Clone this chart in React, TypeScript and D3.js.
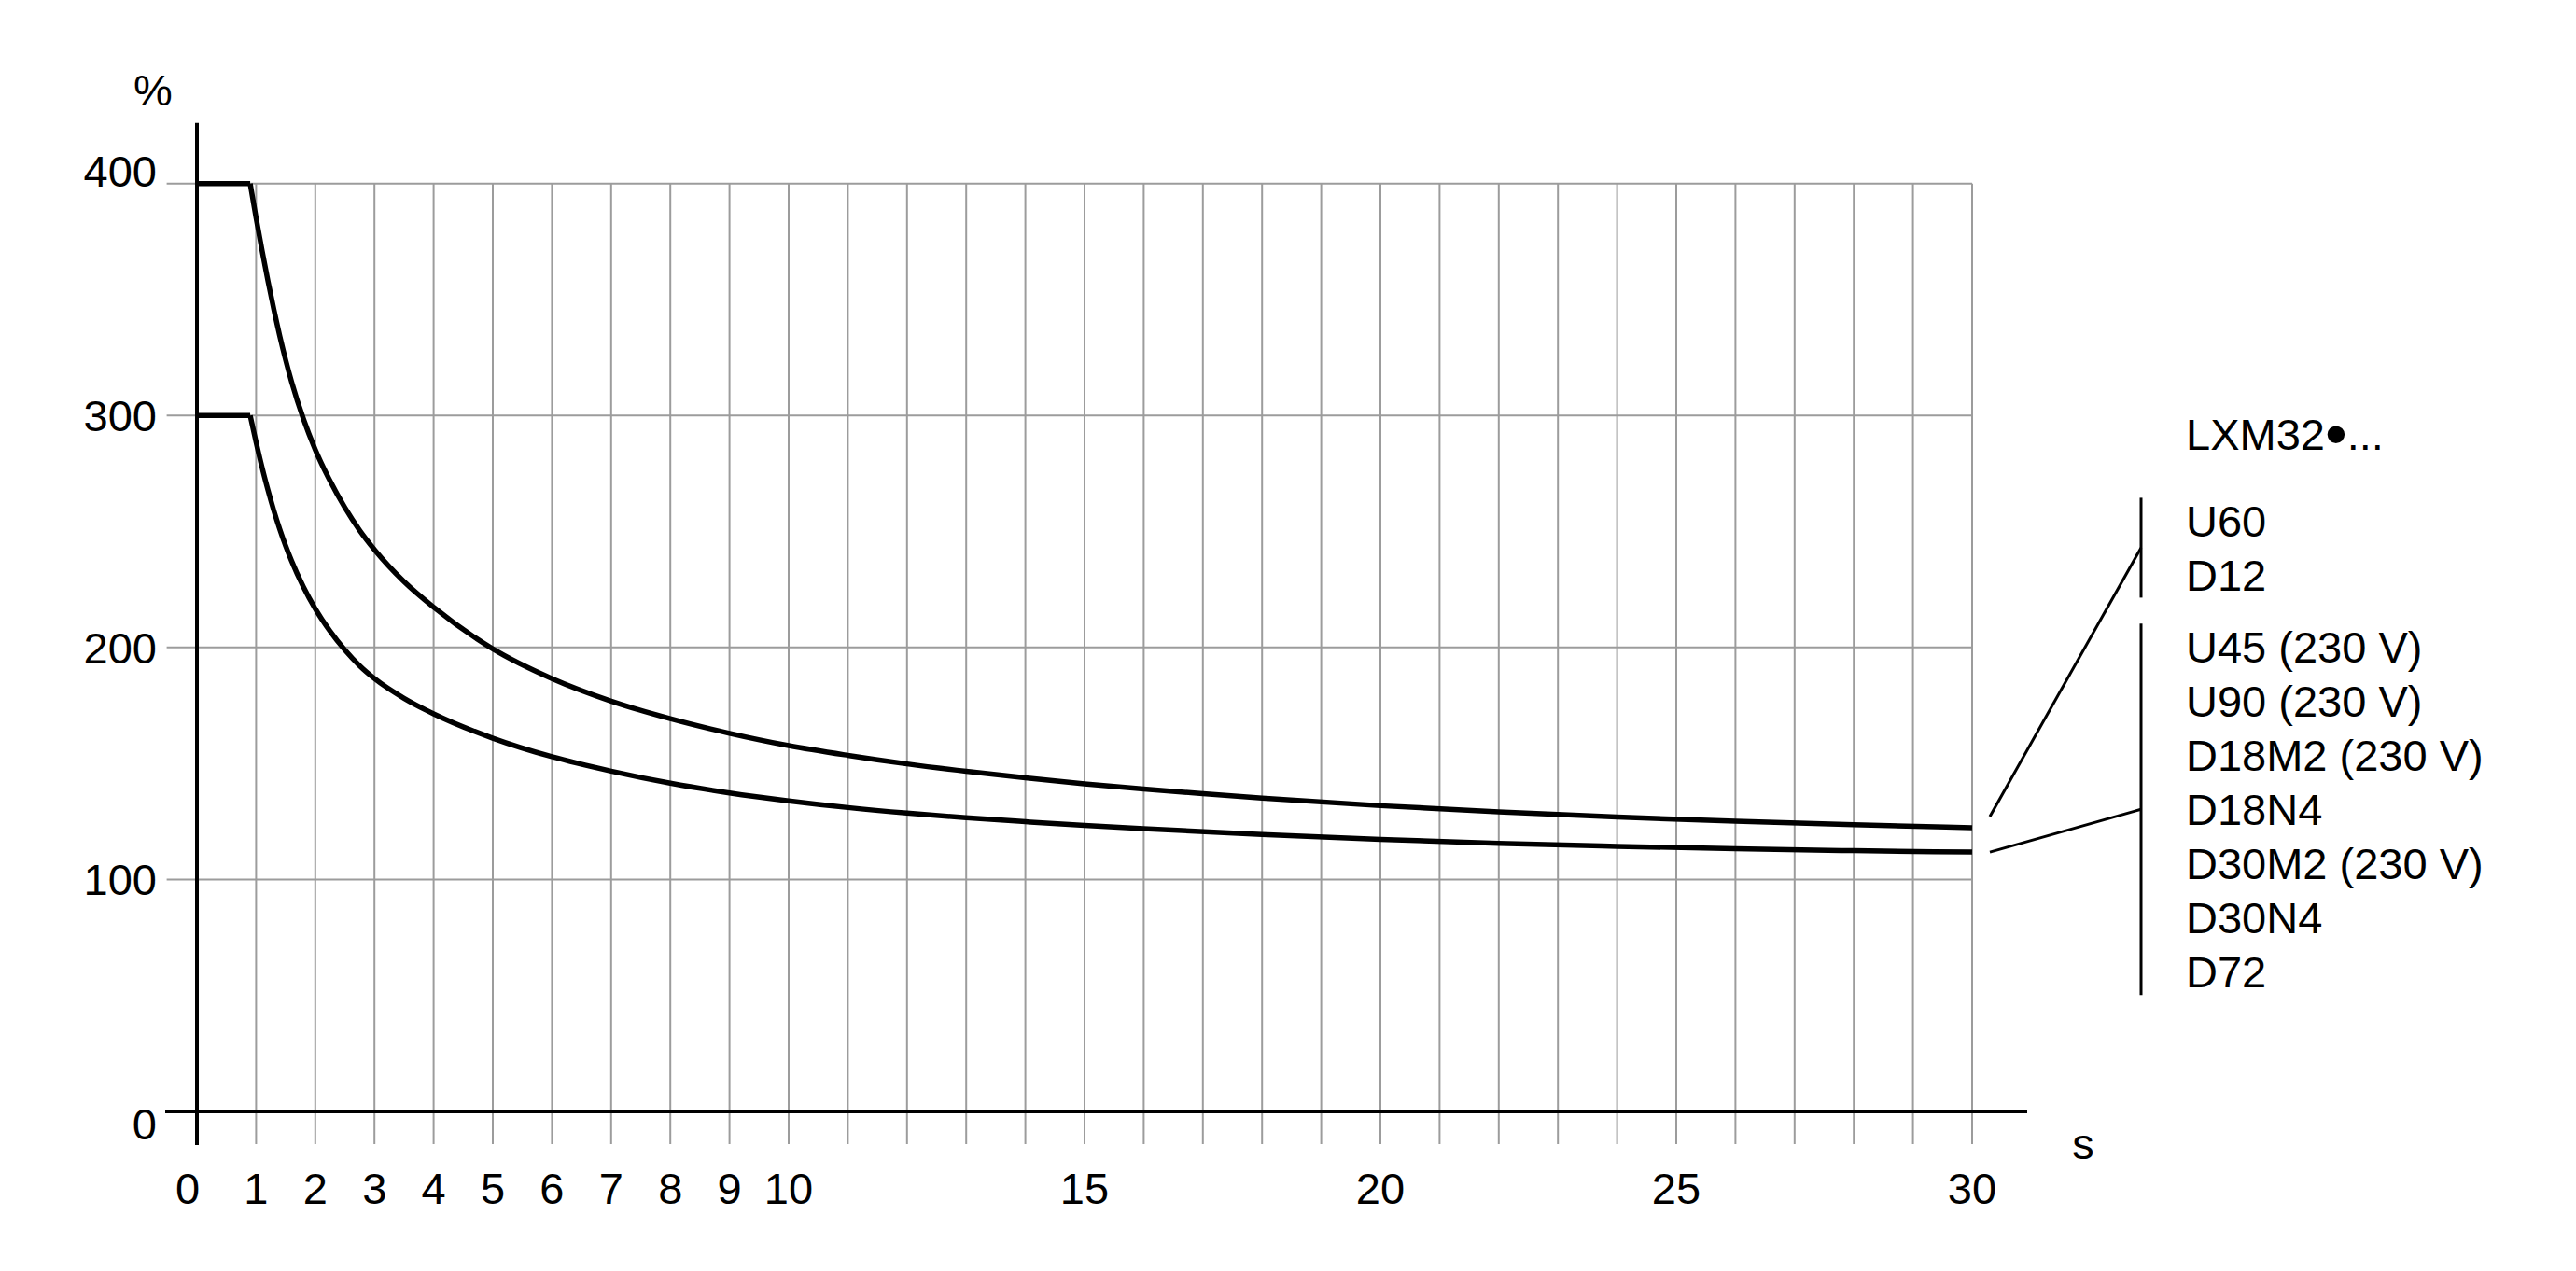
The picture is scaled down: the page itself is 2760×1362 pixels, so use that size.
import React from "react";
import * as d3 from "d3";

// ---- data ----
const gridSeconds = d3.range(1, 31);
const xTickValues = [0, 1, 2, 3, 4, 5, 6, 7, 8, 9, 10, 15, 20, 25, 30];
const yTickValues = [0, 100, 200, 300, 400];

// upper curve (U60, D12)
const upperFlat = [
  { t: 0, v: 400 },
  { t: 0.9, v: 400 },
];
const upperCurve = [
  { t: 0.9, v: 400 }, { t: 1.0, v: 385.2 }, { t: 1.1, v: 371.2 }, { t: 1.2, v: 358 },
  { t: 1.3, v: 345.7 }, { t: 1.4, v: 334.3 }, { t: 1.5, v: 323.9 }, { t: 1.6, v: 314.5 },
  { t: 1.8, v: 298.5 }, { t: 2.0, v: 285.3 }, { t: 2.25, v: 271.8 }, { t: 2.5, v: 260.3 },
  { t: 2.75, v: 250.5 }, { t: 3.0, v: 242.2 }, { t: 3.5, v: 228.4 }, { t: 4.0, v: 217.4 },
  { t: 5, v: 199.4 }, { t: 6, v: 186.6 }, { t: 7, v: 176.9 }, { t: 8, v: 169.3 },
  { t: 9, v: 163 }, { t: 10, v: 157.7 }, { t: 11, v: 153.5 }, { t: 12, v: 149.8 },
  { t: 13, v: 146.6 }, { t: 14, v: 143.8 }, { t: 15, v: 141.2 }, { t: 16, v: 139 },
  { t: 17, v: 137 }, { t: 18, v: 135.1 }, { t: 20, v: 131.8 }, { t: 22, v: 129.1 },
  { t: 24, v: 126.9 }, { t: 26, v: 125.1 }, { t: 28, v: 123.6 }, { t: 30, v: 122.3 },
];

// lower curve (U45, U90, D18M2, D18N4, D30M2, D30N4, D72)
const lowerFlat = [
  { t: 0, v: 300 },
  { t: 0.9, v: 300 },
];
const lowerCurve = [
  { t: 0.9, v: 300 }, { t: 1.0, v: 288.5 }, { t: 1.1, v: 277.7 }, { t: 1.2, v: 267.9 },
  { t: 1.3, v: 259 }, { t: 1.4, v: 251 }, { t: 1.5, v: 243.8 }, { t: 1.6, v: 237.3 },
  { t: 1.8, v: 226.1 }, { t: 2.0, v: 216.7 }, { t: 2.25, v: 207 }, { t: 2.5, v: 198.9 },
  { t: 2.75, v: 192.1 }, { t: 3.0, v: 186.6 }, { t: 3.5, v: 178.1 }, { t: 4.0, v: 171.4 },
  { t: 5, v: 160.9 }, { t: 6, v: 152.9 }, { t: 7, v: 146.7 }, { t: 8, v: 141.5 },
  { t: 9, v: 137.3 }, { t: 10, v: 133.9 }, { t: 11, v: 131 }, { t: 12, v: 128.6 },
  { t: 13, v: 126.6 }, { t: 14, v: 124.9 }, { t: 15, v: 123.3 }, { t: 16, v: 121.9 },
  { t: 18, v: 119.4 }, { t: 20, v: 117.3 }, { t: 22, v: 115.6 }, { t: 24, v: 114.3 },
  { t: 26, v: 113.2 }, { t: 28, v: 112.4 }, { t: 30, v: 111.8 },
];

const legendTitleStart = "LXM32";
const legendTitleBullet = "\u2022";
const legendTitleEnd = "...";
const legendGroupUpper = ["U60", "D12"];
const legendGroupLower = [
  "U45 (230 V)",
  "U90 (230 V)",
  "D18M2 (230 V)",
  "D18N4",
  "D30M2 (230 V)",
  "D30N4",
  "D72",
];
const yUnitLabel = "%";
const xUnitLabel = "s";

// ---- layout ----
const W = 2760;
const H = 1362;
const FONT = "'Liberation Sans', Arial, Helvetica, sans-serif";
const FS = 47;

type Pt = { t: number; v: number };

export default function App() {
  const x = d3.scaleLinear().domain([0, 30]).range([211, 2113]);
  const y = d3.scaleLinear().domain([0, 400]).range([1191, 196.7]);

  const flatLine = d3
    .line<Pt>()
    .x((d) => x(d.t))
    .y((d) => y(d.v));
  const smoothLine = d3
    .line<Pt>()
    .x((d) => x(d.t))
    .y((d) => y(d.v))
    .curve(d3.curveMonotoneX);

  const gridColor = "#9c9c9c";
  const legendX = 2342;
  const bracketX = 2294;
  const lineStep = 58;
  const upperStart = 575.4;
  const lowerStart = 710.3;

  const bracket1Top = upperStart - 42;
  const bracket1Bot = upperStart + (legendGroupUpper.length - 1) * lineStep + 7;
  const bracket2Top = lowerStart - 42;
  const bracket2Bot = lowerStart + (legendGroupLower.length - 1) * lineStep + 8;

  const upperEnd = upperCurve[upperCurve.length - 1];
  const lowerEnd = lowerCurve[lowerCurve.length - 1];
  const leaderX0 = x(30) + 19;

  const yLabelBaseline = (v: number) => {
    if (v === 400) return y(v) + 3;
    if (v === 0) return y(v) + 30;
    return y(v) + 17;
  };

  const series: [Pt[], Pt[]][] = [
    [upperFlat, upperCurve],
    [lowerFlat, lowerCurve],
  ];

  return (
    <svg
      width={W}
      height={H}
      viewBox={`0 0 ${W} ${H}`}
      style={{ position: "absolute", left: 0, top: 0, background: "#fff" }}
      fontFamily={FONT}
    >
      <rect x={0} y={0} width={W} height={H} fill="#fff" />
      {/* horizontal gridlines */}
      {yTickValues
        .filter((v) => v > 0)
        .map((v) => (
          <line
            key={"h" + v}
            x1={178.6}
            x2={x(30)}
            y1={y(v)}
            y2={y(v)}
            stroke={gridColor}
            strokeWidth={2}
          />
        ))}
      {/* vertical gridlines */}
      {gridSeconds.map((s) => (
        <line
          key={"v" + s}
          x1={x(s)}
          x2={x(s)}
          y1={y(400)}
          y2={1226}
          stroke={gridColor}
          strokeWidth={2}
        />
      ))}
      {/* axes */}
      <line x1={x(0)} x2={x(0)} y1={131.7} y2={1227} stroke="#000" strokeWidth={4} />
      <line x1={177} x2={2172} y1={y(0)} y2={y(0)} stroke="#000" strokeWidth={4} />

      {/* curves */}
      {series.map(([flat, curve], i) => (
        <g key={"c" + i} fill="none" stroke="#000" strokeWidth={5.5}>
          <path d={flatLine(flat) || ""} strokeLinecap="butt" />
          <path d={smoothLine(curve) || ""} strokeLinecap="butt" />
        </g>
      ))}

      {/* y tick labels */}
      {yTickValues.map((v) => (
        <text
          key={"yl" + v}
          x={168}
          y={yLabelBaseline(v)}
          textAnchor="end"
          fontSize={FS}
          fill="#000"
        >
          {v}
        </text>
      ))}
      {/* x tick labels */}
      {xTickValues.map((t) => (
        <text
          key={"xl" + t}
          x={t === 0 ? x(t) - 10 : x(t)}
          y={1290}
          textAnchor="middle"
          fontSize={FS}
          fill="#000"
        >
          {t}
        </text>
      ))}
      <text x={164} y={113} textAnchor="middle" fontSize={FS} fill="#000">
        {yUnitLabel}
      </text>
      <text x={2232} y={1242} textAnchor="middle" fontSize={FS} fill="#000">
        {xUnitLabel}
      </text>

      {/* legend */}
      <text x={legendX} y={481.7} fontSize={FS} fill="#000">
        {legendTitleStart}
        <tspan fontSize={68} dy={6}>
          {legendTitleBullet}
        </tspan>
        <tspan dy={-6}>{legendTitleEnd}</tspan>
      </text>
      {legendGroupUpper.map((s, i) => (
        <text key={"lu" + i} x={legendX} y={upperStart + i * lineStep} fontSize={FS} fill="#000">
          {s}
        </text>
      ))}
      {legendGroupLower.map((s, i) => (
        <text key={"ll" + i} x={legendX} y={lowerStart + i * lineStep} fontSize={FS} fill="#000">
          {s}
        </text>
      ))}
      <g stroke="#000" strokeWidth={3}>
        <line x1={bracketX} x2={bracketX} y1={bracket1Top} y2={bracket1Bot} />
        <line x1={bracketX} x2={bracketX} y1={bracket2Top} y2={bracket2Bot} />
        <line
          x1={leaderX0}
          y1={y(upperEnd.v) - 12}
          x2={bracketX}
          y2={(bracket1Top + bracket1Bot) / 2}
        />
        <line
          x1={leaderX0}
          y1={y(lowerEnd.v)}
          x2={bracketX}
          y2={(bracket2Top + bracket2Bot) / 2}
        />
      </g>
    </svg>
  );
}
